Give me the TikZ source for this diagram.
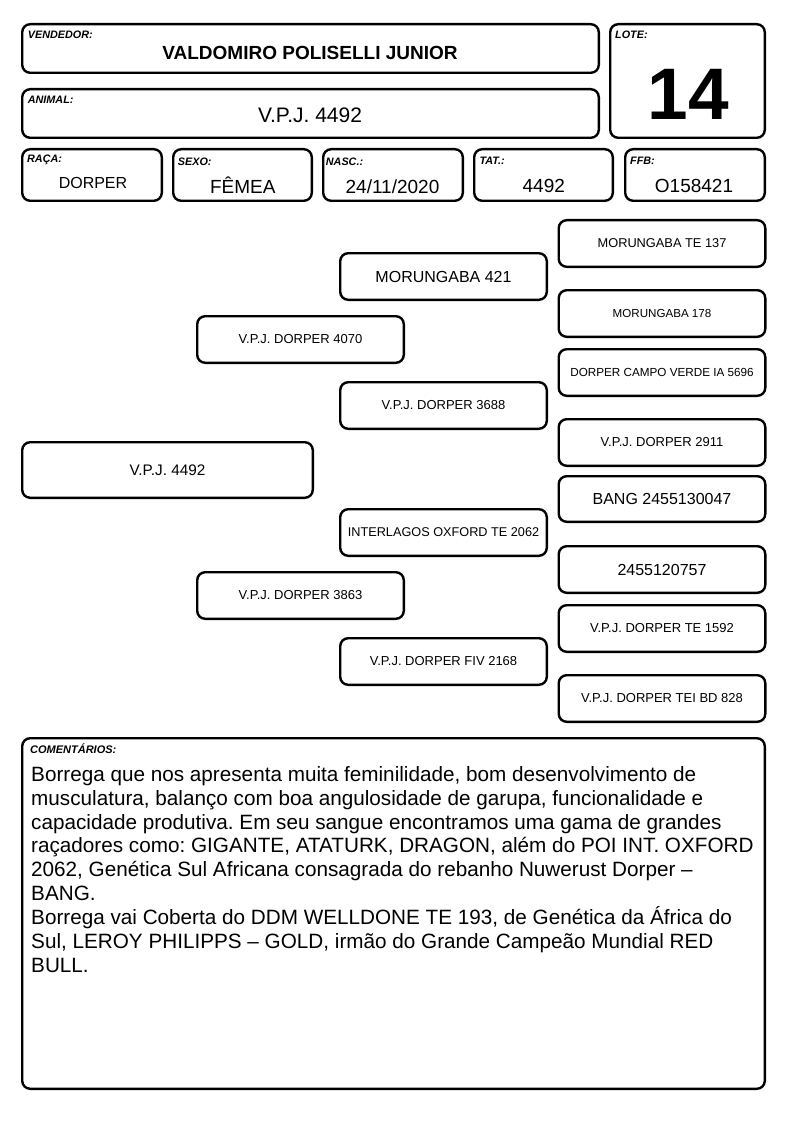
\documentclass[tikz,border=0pt]{standalone}
\usepackage{fontspec}
\setmainfont{Liberation Sans}
\frenchspacing
\newcommand{\fsz}[1]{\fontsize{#1}{#1}\selectfont}
\tikzset{
  card/.style={draw, line width=2.4pt, rounded corners=8pt, inner sep=0pt, fill=white},
  pbox/.style={card, minimum width=206.6pt, minimum height=46.6pt},
  lab/.style={anchor=base west, inner sep=0pt, font=\fsz{10.8}\bfseries\itshape},
  val/.style={anchor=base, inner sep=0pt},
}
\begin{document}
\begin{tikzpicture}[x=1pt,y=-1pt]
\useasboundingbox (0,0) rectangle (794,1123);
% header boxes
\node[card, minimum width=576.6pt, minimum height=48.6pt] (vend) at (310.5,48.5) {};
\node[card, minimum width=576.6pt, minimum height=48.6pt] (anim) at (310.5,113.5) {};
\node[card, minimum width=154.6pt, minimum height=113.6pt] (lote) at (687.5,81) {};
\node[card, minimum width=139.6pt, minimum height=51.6pt] (raca) at (92,175) {};
\node[card, minimum width=138.6pt, minimum height=51.6pt] (sexo) at (242.5,175) {};
\node[card, minimum width=139.6pt, minimum height=51.6pt] (nasc) at (393,175) {};
\node[card, minimum width=138.6pt, minimum height=51.6pt] (tat) at (543.5,175) {};
\node[card, minimum width=139.6pt, minimum height=51.6pt] (ffb) at (695,175) {};
% labels
\node[lab] (lvend) at (27.7,39) {VENDEDOR:};
\node[lab] (lanim) at (27.7,103.5) {ANIMAL:};
\node[lab] (llote) at (615,39) {LOTE:};
\node[lab] (lraca) at (27,162.5) {RAÇA:};
\node[lab] (lsexo) at (177.7,165.5) {SEXO:};
\node[lab] (lnasc) at (325.7,165.5) {NASC.:};
\node[lab] (ltat) at (479.3,165) {TAT.:};
\node[lab] (lffb) at (630,165) {FFB:};
% values
\node[val, font=\fsz{19}\bfseries] (vvend) at (310,59.3) {VALDOMIRO POLISELLI JUNIOR};
\node[val, font=\fsz{21}] (vanim) at (310,122.7) {V.P.J. 4492};
\node[val, font=\fsz{73}\bfseries] (vlote) at (688,120) {14};
\node[val, font=\fsz{16}] (vraca) at (93,188.3) {DORPER};
\node[val, font=\fsz{19}] (vsexo) at (242.8,193.3) {FÊMEA};
\node[val, font=\fsz{19}] (vnasc) at (392.5,193.3) {24/11/2020};
\node[val, font=\fsz{19}] (vtat) at (543.8,192.7) {4492};
\node[val, font=\fsz{19}] (vffb) at (694,192.7) {O158421};
% pedigree
\node[card, minimum width=290.6pt, minimum height=55.6pt, font=\fsz{15.3}] (p0) at (167.5,470) {V.P.J. 4492};
\node[pbox, font=\fsz{13}] (p1) at (300.5,339.5) {V.P.J. DORPER 4070};
\node[pbox, font=\fsz{13}] (p2) at (300.5,595.5) {V.P.J. DORPER 3863};
\node[pbox, font=\fsz{16}] (g1) at (443.5,276.5) {MORUNGABA 421};
\node[pbox, font=\fsz{13}] (g2) at (443.5,405.5) {V.P.J. DORPER 3688};
\node[pbox, font=\fsz{12.7}] (g3) at (443.5,532.5) {INTERLAGOS OXFORD TE 2062};
\node[pbox, font=\fsz{13}] (g4) at (443.5,661.5) {V.P.J. DORPER FIV 2168};
\node[pbox, font=\fsz{12.8}] (gg1) at (662,243.5) {MORUNGABA TE 137};
\node[pbox, font=\fsz{11.6}] (gg2) at (662,313.5) {MORUNGABA 178};
\node[pbox, font=\fsz{11.7}] (gg3) at (662,372.5) {DORPER CAMPO VERDE IA 5696};
\node[pbox, font=\fsz{13}] (gg4) at (662,442.5) {V.P.J. DORPER 2911};
\node[pbox, font=\fsz{16}, minimum height=45.6pt] (gg5) at (662,499) {BANG 2455130047};
\node[pbox, font=\fsz{16}] (gg6) at (662,569.5) {2455120757};
\node[pbox, font=\fsz{13}] (gg7) at (662,628.5) {V.P.J. DORPER TE 1592};
\node[pbox, font=\fsz{13}] (gg8) at (662,698.5) {V.P.J. DORPER TEI BD 828};
% comments
\node[card, minimum width=742.6pt, minimum height=350.6pt] (com) at (393.5,913.5) {};
\node[lab, font=\fsz{11}\bfseries\itshape] (lcom) at (30,753.3) {COMENTÁRIOS:};
\node[anchor=north west, inner sep=0pt, align=left, font=\fontsize{20.7}{23.9}\selectfont] (tcom) at (31,766) {Borrega que nos apresenta muita feminilidade, bom desenvolvimento de\\
musculatura, balanço com boa angulosidade de garupa, funcionalidade e\\
capacidade produtiva. Em seu sangue encontramos uma gama de grandes\\
raçadores como: GIGANTE, ATATURK, DRAGON, além do POI INT. OXFORD\\
2062, Genética Sul Africana consagrada do rebanho Nuwerust Dorper –\\
BANG.\\
Borrega vai Coberta do DDM WELLDONE TE 193, de Genética da África do\\
Sul, LEROY PHILIPPS – GOLD, irmão do Grande Campeão Mundial RED\\
BULL.};
\end{tikzpicture}
\end{document}
